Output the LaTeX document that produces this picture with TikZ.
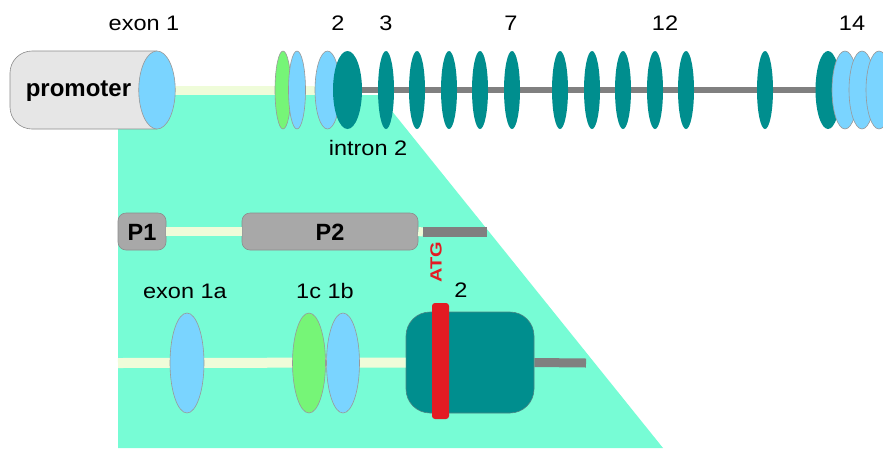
\documentclass[tikz,border=0pt]{standalone}
\usepackage{fontspec}
\setmainfont{Liberation Sans}
\usepackage{graphicx}
\usetikzlibrary{shapes.geometric}
\definecolor{bgteal}{HTML}{77FCD5}
\definecolor{lblue}{HTML}{7AD4FF}
\definecolor{lgreen}{HTML}{76F577}
\definecolor{dteal}{HTML}{008E8E}
\definecolor{pale}{HTML}{EFFCD9}
\definecolor{gline}{HTML}{808080}
\definecolor{gbox}{HTML}{A8A8A8}
\definecolor{promofill}{HTML}{E6E6E6}
\definecolor{atgred}{HTML}{E31B23}
\newcommand\sxt[1]{\scalebox{1.12}[1]{#1}}
\begin{document}
\begin{tikzpicture}[x=1pt,y=-1pt,
  exb/.style={ellipse, inner sep=0pt, draw=gray!80, line width=0.6pt},
  blueex/.style={exb, fill=lblue},
  greenex/.style={exb, fill=lgreen},
  tealex/.style={ellipse, inner sep=0pt, fill=dteal},
  paleln/.style={draw=pale, line width=9pt},
  greyln/.style={draw=gline, line width=6.5pt},
  lbl/.style={anchor=base, inner sep=0pt, font=\fontsize{21}{21}\selectfont},
  blbl/.style={anchor=base, inner sep=0pt, font=\fontsize{23.5}{23.5}\selectfont\bfseries},
  pbox/.style={rectangle, rounded corners=8pt, fill=gbox, draw=gray!90, line width=0.6pt, minimum height=37pt, inner sep=0pt}
]
\useasboundingbox (0,0) rectangle (883,448);
\fill[white] (0,0) rectangle (883,448);
\fill[bgteal] (118,95) -- (379,95) -- (663,448) -- (118,448) -- cycle;

% ---------- top row ----------
\coordinate (pa) at (170,90.5);
\coordinate (pb) at (335,90.5);
\draw[paleln] (pa) -- (pb);
\coordinate (ga) at (355,90);
\coordinate (gb) at (830,90);
\draw[greyln] (ga) -- (gb);

\draw[fill=promofill, draw=gray!90, line width=0.6pt, rounded corners=22pt]
  (157,51) -- (10,51) -- (10,129) -- (157,129);
\node[blueex, minimum width=36.5pt, minimum height=78pt] (e1) at (157,90) {};
\node[blbl, font=\fontsize{24}{24}\selectfont\bfseries] (promoter) at (78.5,96.5) {promoter};

\node[greenex, minimum width=16pt, minimum height=78pt] (g1) at (283,90) {};
\node[blueex, minimum width=17pt, minimum height=78pt] (b1) at (297,90) {};
\node[blueex, minimum width=25pt, minimum height=78pt] (b2) at (327.5,90) {};
\node[tealex, minimum width=29pt, minimum height=78pt] (t2) at (347.5,90) {};

\foreach \xx [count=\i] in {386,417,449,480,512,560,592,623,655,686,765}
  \node[tealex, minimum width=16pt, minimum height=78pt] (s\i) at (\xx,90) {};

\node[tealex, minimum width=25pt, minimum height=78pt] (t14) at (828,90) {};
\node[blueex, minimum width=26pt, minimum height=78pt] (c1) at (845,90) {};
\node[blueex, minimum width=26pt, minimum height=78pt] (c2) at (862,90) {};
\node[blueex, minimum width=26pt, minimum height=78pt] (c3) at (879,90) {};

\node[lbl] (lex1) at (144,30) {\sxt{exon 1}};
\node[lbl] (l2) at (338,30) {\sxt{2}};
\node[lbl] (l3) at (386,30) {\sxt{3}};
\node[lbl] (l7) at (511,30) {\sxt{7}};
\node[lbl] (l12) at (665,30) {\sxt{12}};
\node[lbl] (l14) at (852,30) {\sxt{14}};
\node[lbl] (lint) at (368,155) {\sxt{intron 2}};

% ---------- P row ----------
\node[pbox, minimum width=48pt] (P1) at (142,231.5) {};
\node[pbox, minimum width=176pt] (P2) at (330,231.5) {};
\coordinate (pc) at (423,232);
\coordinate (pd) at (487,232);
\draw[paleln] (P1.east) -- (P2.west);
\draw[paleln] (P2.east) -- (pc);
\draw[draw=gline, line width=10pt] (pc) -- (pd);
\node[blbl] (tP1) at (142,240) {P1};
\node[blbl] (tP2) at (330,240) {P2};

% ---------- bottom row ----------
\coordinate (ba) at (118,363);
\coordinate (bz) at (586,363);
\node[rectangle, rounded corners=24pt, fill=dteal, draw=gray!60!dteal, line width=0.6pt,
      minimum width=128pt, minimum height=101pt, inner sep=0pt] (ex2) at (470,362.5) {};
\draw[draw=pale, line width=10pt] (ba) -- (ex2.west);
\draw[draw=gline, line width=9pt] (ex2.east) -- (bz);
\node[blueex, minimum width=34pt, minimum height=100pt] (e1a) at (187,363) {};
\node[greenex, minimum width=33pt, minimum height=100pt] (e1c) at (309,363) {};
\node[blueex, minimum width=33pt, minimum height=100pt] (e1b) at (343,363) {};
\node[rectangle, rounded corners=3pt, fill=atgred, minimum width=17pt, minimum height=116pt, inner sep=0pt] (atgbar) at (440.5,361) {};

\node[lbl] (l1a) at (185,298) {\sxt{exon 1a}};
\node[lbl] (l1cb) at (325,298) {\sxt{1c 1b}};
\node[lbl] (lb2) at (461,297) {\sxt{2}};
\node[inner sep=0pt, rotate=90, anchor=west, text=atgred] (atg) at (436,283) {\scalebox{1.05}[0.85]{\fontsize{19}{19}\selectfont\bfseries ATG}};
\end{tikzpicture}
\end{document}
